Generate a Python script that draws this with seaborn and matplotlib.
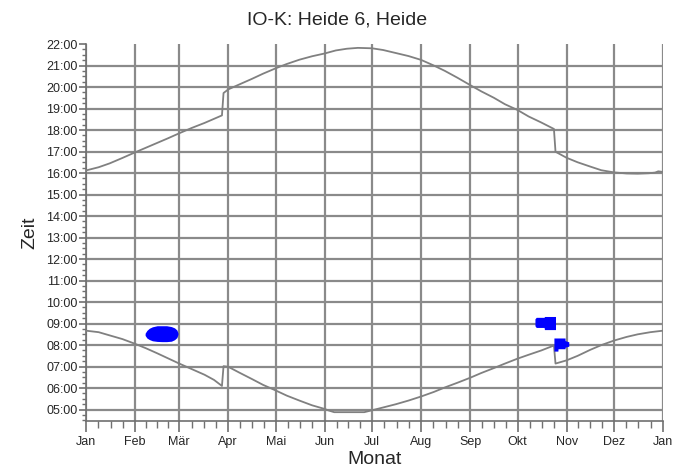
import numpy as np
import pandas as pd
import matplotlib
matplotlib.use('Agg')
import matplotlib.pyplot as plt
import seaborn as sns
from matplotlib.ticker import FixedLocator, MultipleLocator, FuncFormatter

# Tag im Jahr (0 = 1. Jan) und Uhrzeit in Stunden
sunset_days = [0, 8, 15, 23, 31, 38, 45, 52, 59, 67, 75, 81, 86,
               87, 90, 97, 105, 112, 120, 127, 135, 143, 151, 158, 165, 172, 181,
               188, 196, 204, 212, 220, 227, 235, 243, 250, 258, 265, 273, 280, 288, 296,
               297, 304, 311, 319, 326, 334, 342, 349, 356, 360, 362, 365]
sunset_hours = [16.12, 16.27, 16.45, 16.70, 16.96, 17.18, 17.40, 17.62, 17.85, 18.10, 18.33,
                18.52, 18.68,
                19.72, 19.89, 20.12, 20.38, 20.62, 20.87, 21.07, 21.27, 21.43, 21.56, 21.70,
                21.78, 21.82, 21.80, 21.72, 21.58, 21.44, 21.26, 21.00, 20.75, 20.43, 20.09,
                19.80, 19.50, 19.20, 18.93, 18.63, 18.35, 18.05,
                16.99, 16.71, 16.50, 16.30, 16.13, 16.03, 15.98, 15.97, 15.99, 16.02, 16.08,
                16.05]

sunrise_days = [0, 8, 15, 23, 31, 38, 45, 52, 59, 67, 75, 81, 86,
                87, 90, 97, 105, 112, 120, 127, 135, 143, 151, 153, 157, 176, 181,
                188, 196, 204, 212, 220, 227, 235, 243, 250, 258, 265, 273, 280, 288, 296,
                297, 304, 311, 319, 326, 334, 342, 349, 357, 365]
sunrise_hours = [8.67, 8.60, 8.45, 8.28, 8.06, 7.85, 7.62, 7.38, 7.14, 6.88, 6.62, 6.38, 6.10,
                 7.02, 6.99, 6.72, 6.42, 6.15, 5.89, 5.65, 5.42, 5.20, 5.03, 4.97, 4.88,
                 4.88, 4.97, 5.10, 5.25, 5.42, 5.61, 5.82, 6.03, 6.25, 6.48, 6.70, 6.93,
                 7.14, 7.37, 7.55, 7.75, 7.98,
                 7.14, 7.29, 7.50, 7.78, 8.00, 8.21, 8.38, 8.50, 8.60, 8.67]

# Schattenwurf-Zeitraeume (Beginn/Ende je Tag)
shadow1_days = [37.4, 38.5, 40, 42, 45, 48, 51, 54, 56, 57.5, 58.2]
shadow1_start = [8.45, 8.33, 8.26, 8.20, 8.17, 8.16, 8.16, 8.18, 8.25, 8.35, 8.50]
shadow1_end = [8.55, 8.68, 8.78, 8.85, 8.90, 8.90, 8.90, 8.86, 8.80, 8.70, 8.56]

shadow2_days = [284, 284.8, 289.8, 290, 297]
shadow2_start = [8.90, 8.82, 8.82, 8.72, 8.72]
shadow2_end = [9.22, 9.29, 9.29, 9.33, 9.33]

shadow3_days = [296.0, 298.5, 298.6, 303.0, 303.1, 305.4]
shadow3_start = [7.72, 7.72, 7.83, 7.83, 7.90, 7.95]
shadow3_end = [8.33, 8.33, 8.33, 8.33, 8.21, 8.15]

month_starts = [0, 31, 59, 90, 120, 151, 181, 212, 243, 273, 304, 334, 365]
month_labels = ['Jan', 'Feb', 'Mär', 'Apr', 'Mai', 'Jun', 'Jul', 'Aug', 'Sep',
                'Okt', 'Nov', 'Dez', 'Jan']

sns.set_style('white')
plt.rcParams['font.family'] = ['Liberation Sans', 'DejaVu Sans']

fig = plt.figure(figsize=(6.74, 4.74), dpi=100)
ax = fig.add_axes([86 / 674, 1 - 421 / 474, 577 / 674, 377 / 474])

GRAY = '#808080'
sunset = pd.DataFrame({'Tag': sunset_days, 'Zeit': sunset_hours})
sunrise = pd.DataFrame({'Tag': sunrise_days, 'Zeit': sunrise_hours})
sns.lineplot(data=sunset, x='Tag', y='Zeit', ax=ax, color=GRAY, lw=1.3,
             estimator=None, sort=False, zorder=3)
sns.lineplot(data=sunrise, x='Tag', y='Zeit', ax=ax, color=GRAY, lw=1.3,
             estimator=None, sort=False, zorder=3)

for d, s, e in [(shadow1_days, shadow1_start, shadow1_end),
                (shadow2_days, shadow2_start, shadow2_end),
                (shadow3_days, shadow3_start, shadow3_end)]:
    ax.fill_between(d, s, e, color='#0000ff', lw=0, zorder=4)

ax.set_xlim(0, 365)
ax.set_ylim(4.47, 22)

ax.xaxis.set_major_locator(FixedLocator(month_starts))
ax.set_xticklabels(month_labels)
minor_x = []
for a, b in zip(month_starts[:-1], month_starts[1:]):
    minor_x += [a + (b - a) * q / 4 for q in (1, 2, 3)]
ax.xaxis.set_minor_locator(FixedLocator(minor_x))

ax.yaxis.set_major_locator(FixedLocator(list(range(5, 23))))
ax.yaxis.set_minor_locator(MultipleLocator(0.25))
ax.yaxis.set_major_formatter(FuncFormatter(lambda v, p: f'{int(round(v)):02d}:00'))

ax.grid(which='major', color='#8a8a8a', lw=1.6, zorder=1)
ax.set_axisbelow(True)
for s in ['top', 'right']:
    ax.spines[s].set_visible(False)
for s in ['left', 'bottom']:
    ax.spines[s].set_color('#707070')
    ax.spines[s].set_linewidth(1.2)

ax.tick_params(axis='x', which='major', direction='out', length=8, width=1.2,
               color='#707070', labelsize=9, pad=3, bottom=True)
ax.tick_params(axis='x', which='minor', direction='out', length=5, width=1,
               color='#707070', bottom=True)
ax.tick_params(axis='y', which='major', direction='out', length=5, width=1.2,
               color='#707070', labelsize=9, pad=1, left=True)
ax.tick_params(axis='y', which='minor', direction='out', length=3, width=1,
               color='#707070', left=True)

ax.get_ygridlines()[-1].set_visible(False)

ax.set_xlabel('Monat', fontsize=14, labelpad=2)
ax.set_ylabel('Zeit', fontsize=14, labelpad=6)
fig.text(0.5, 1 - 20 / 474, 'IO-K: Heide 6, Heide', fontsize=14,
         ha='center', va='center')

fig.savefig('out.png', dpi=100)
plt.close(fig)
